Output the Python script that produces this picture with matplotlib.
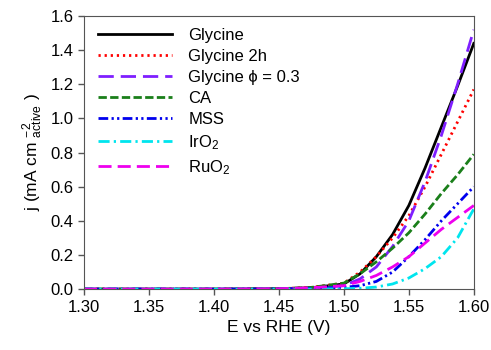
import numpy as np
from matplotlib import pyplot as plt

plt.rcParams['font.family'] = ['Liberation Sans', 'DejaVu Sans']
plt.rcParams['mathtext.fontset'] = 'custom'
plt.rcParams['mathtext.rm'] = 'Liberation Sans'
plt.rcParams['mathtext.it'] = 'Liberation Sans'
plt.rcParams['mathtext.default'] = 'regular'

# potential (V vs RHE)
E = [1.30, 1.35, 1.40, 1.45, 1.475, 1.50, 1.5125, 1.525, 1.5375, 1.55,
     1.5625, 1.575, 1.5875, 1.60]

# current density (mA cm-2 active)
j_gly = [0, 0, 0, 0.002, 0.008, 0.03, 0.09, 0.19, 0.32, 0.49, 0.71, 0.95, 1.19, 1.44]
j_gly2h = [0, 0, 0, 0.002, 0.01, 0.035, 0.10, 0.19, 0.30, 0.43, 0.60, 0.79, 0.98, 1.17]
j_glyphi = [0, 0, 0, 0.001, 0.006, 0.02, 0.06, 0.13, 0.25, 0.40, 0.63, 0.90, 1.20, 1.52]
j_ca = [0, 0, 0, 0.002, 0.01, 0.035, 0.09, 0.16, 0.24, 0.33, 0.44, 0.56, 0.67, 0.79]
j_mss = [0, 0, 0, 0.001, 0.004, 0.01, 0.02, 0.045, 0.10, 0.19, 0.29, 0.40, 0.50, 0.60]
j_iro2 = [0, 0, 0, 0, 0, 0.002, 0.005, 0.012, 0.03, 0.065, 0.12, 0.19, 0.30, 0.47]
j_ruo2 = [0, 0, 0, 0.002, 0.008, 0.02, 0.045, 0.08, 0.13, 0.19, 0.27, 0.35, 0.42, 0.49]

labels = ['Glycine', 'Glycine 2h', 'Glycine ϕ = 0.3', 'CA', 'MSS', 'IrO$_2$', 'RuO$_2$']
series = [j_gly, j_gly2h, j_glyphi, j_ca, j_mss, j_iro2, j_ruo2]
colors = ['black', 'red', '#7f1fff', '#1a7f1a', '#0000ee', '#00e5ee', '#ee00ee']
styles = ['-', (0, (0.8, 1.4)), (0, (5.5, 2.5)), (0, (3, 1.2)), (0, (3.5, 1.2, 0.8, 1.2, 0.8, 1.2)),
          (0, (4, 1.5, 0.8, 1.5)), (0, (4.7, 2.2))]

fig = plt.figure(figsize=(4.91, 3.5), dpi=100)
ax = fig.add_axes([0.171, 0.174, 0.794, 0.780])

for y, lab, c, ls in zip(series, labels, colors, styles):
    ax.plot(E, y, color=c, linestyle=ls, linewidth=2, label=lab)

ax.set_xlim(1.30, 1.60)
ax.set_ylim(0, 1.6)
ax.set_xticks(np.arange(1.30, 1.601, 0.05))
ax.set_yticks(np.arange(0, 1.61, 0.2))
ax.xaxis.set_major_formatter(plt.FormatStrFormatter('%.2f'))
ax.yaxis.set_major_formatter(plt.FormatStrFormatter('%.1f'))
ax.tick_params(direction='out', length=4, width=1, labelsize=12, color='#555555')
for s in ax.spines.values():
    s.set_color('#555555')

ax.set_xlabel('E vs RHE (V)', fontsize=12.5)
ax.set_ylabel('j (mA cm $^{-2}_{active}$ )', fontsize=12.5)

ax.legend(loc='upper left', bbox_to_anchor=(0.02, 0.98), frameon=False, fontsize=12,
          handlelength=4.4, handletextpad=1.0, labelspacing=0.36, borderaxespad=0)

fig.savefig('out.png', dpi=100)
